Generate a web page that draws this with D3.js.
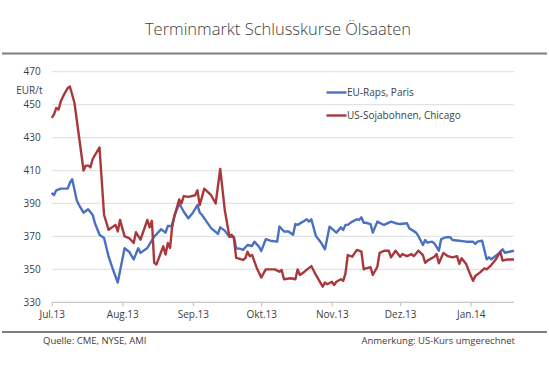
<!DOCTYPE html>
<html>
<head>
<meta charset="utf-8">
<script src="https://cdn.jsdelivr.net/npm/d3@7"></script>
<style>
  html, body { margin: 0; padding: 0; background: #fff; }
  svg { display: block; font-family: "Open Sans", sans-serif; }
</style>
</head>
<body>
<svg id="chart" width="549" height="375"></svg>
<script>
const title = "Terminmarkt Schlusskurse Ölsaaten";
const unitLabel = "EUR/t";
const sourceNote = "Quelle: CME, NYSE, AMI";
const remarkNote = "Anmerkung: US-Kurs umgerechnet";
const seriesNames = ["EU-Raps, Paris", "US-Sojabohnen, Chicago"];
const seriesColors = ["#4a70c2", "#a8383b"];
const yTicks = [330, 350, 370, 390, 410, 430, 450, 470];
const monthTicks = ["2013-07-01","2013-08-01","2013-09-01","2013-10-01","2013-11-01","2013-12-01","2014-01-01"];
const monthLabels = ["Jul.13","Aug.13","Sep.13","Okt.13","Nov.13","Dez.13","Jan.14"];
const xDomain = ["2013-07-01", "2014-01-20"];

const rapsDates = ["2013-07-01","2013-07-02","2013-07-03","2013-07-05","2013-07-08","2013-07-09","2013-07-10","2013-07-12","2013-07-13","2013-07-15","2013-07-17","2013-07-19","2013-07-20","2013-07-22","2013-07-24","2013-07-26","2013-07-28","2013-07-30","2013-08-02","2013-08-04","2013-08-06","2013-08-08","2013-08-09","2013-08-12","2013-08-15","2013-08-18","2013-08-20","2013-08-21","2013-08-23","2013-08-24","2013-08-26","2013-08-28","2013-08-30","2013-09-01","2013-09-03","2013-09-04","2013-09-05","2013-09-07","2013-09-09","2013-09-12","2013-09-13","2013-09-15","2013-09-17","2013-09-19","2013-09-20","2013-09-22","2013-09-23","2013-09-25","2013-09-27","2013-09-28","2013-09-30","2013-10-01","2013-10-03","2013-10-05","2013-10-08","2013-10-09","2013-10-11","2013-10-13","2013-10-15","2013-10-16","2013-10-17","2013-10-20","2013-10-21","2013-10-22","2013-10-23","2013-10-25","2013-10-27","2013-10-29","2013-10-31","2013-11-02","2013-11-03","2013-11-05","2013-11-06","2013-11-07","2013-11-08","2013-11-10","2013-11-12","2013-11-13","2013-11-14","2013-11-15","2013-11-16","2013-11-18","2013-11-19","2013-11-21","2013-11-23","2013-11-24","2013-11-27","2013-11-29","2013-12-01","2013-12-04","2013-12-05","2013-12-08","2013-12-09","2013-12-11","2013-12-12","2013-12-13","2013-12-15","2013-12-16","2013-12-18","2013-12-19","2013-12-21","2013-12-23","2013-12-24","2013-12-27","2013-12-30","2014-01-02","2014-01-03","2014-01-04","2014-01-06","2014-01-08","2014-01-09","2014-01-10","2014-01-13","2014-01-15","2014-01-16","2014-01-18","2014-01-20"];
const rapsValues = [396.5,395,398,399,399,402.6,404.7,392,389,384.4,386.5,383,378,371,369,357.7,349.6,342,362.8,360.7,356,362.8,360,363,369.8,374.3,372.3,376.3,376.3,383,390,385,381,384.4,389,384.4,383,379,375,371.5,375.5,373.5,369.8,369.8,362.8,362.4,361.8,364.8,364.2,366.8,363.8,361.1,368.3,367.4,366.8,376,373,373,371,377.5,377,379.5,380.4,379,380.4,370.3,366.8,362.2,375.9,373.5,372.3,375.5,373.9,377,377,379,380.4,380,381.6,378.3,378.3,377.5,372.3,379,377.5,377,379,378,377.5,378,375,372.3,370.3,364.8,367.8,366.2,366.8,365.8,361.3,368.3,369.5,369.5,367.8,367.4,366.8,366.8,365.4,366.8,367.4,356.1,357.3,356.1,359.3,362.2,360.1,360.7,361.3];

const sojaDates = ["2013-07-01","2013-07-02","2013-07-03","2013-07-04","2013-07-05","2013-07-06","2013-07-08","2013-07-09","2013-07-11","2013-07-15","2013-07-16","2013-07-17","2013-07-18","2013-07-19","2013-07-22","2013-07-24","2013-07-26","2013-07-29","2013-07-30","2013-07-31","2013-08-02","2013-08-04","2013-08-06","2013-08-07","2013-08-09","2013-08-12","2013-08-13","2013-08-14","2013-08-15","2013-08-16","2013-08-19","2013-08-20","2013-08-21","2013-08-22","2013-08-23","2013-08-26","2013-08-27","2013-08-28","2013-08-30","2013-09-02","2013-09-03","2013-09-04","2013-09-06","2013-09-09","2013-09-11","2013-09-13","2013-09-15","2013-09-17","2013-09-18","2013-09-19","2013-09-20","2013-09-23","2013-09-24","2013-09-25","2013-09-26","2013-09-27","2013-09-29","2013-10-01","2013-10-03","2013-10-05","2013-10-07","2013-10-09","2013-10-10","2013-10-11","2013-10-14","2013-10-16","2013-10-17","2013-10-18","2013-10-20","2013-10-23","2013-10-25","2013-10-28","2013-10-29","2013-10-30","2013-11-01","2013-11-02","2013-11-03","2013-11-05","2013-11-06","2013-11-07","2013-11-08","2013-11-10","2013-11-12","2013-11-14","2013-11-15","2013-11-16","2013-11-18","2013-11-19","2013-11-21","2013-11-22","2013-11-24","2013-11-26","2013-11-27","2013-11-29","2013-12-01","2013-12-02","2013-12-04","2013-12-06","2013-12-07","2013-12-09","2013-12-11","2013-12-12","2013-12-13","2013-12-16","2013-12-17","2013-12-18","2013-12-20","2013-12-22","2013-12-24","2013-12-26","2013-12-27","2013-12-28","2013-12-30","2013-12-31","2014-01-02","2014-01-03","2014-01-05","2014-01-07","2014-01-08","2014-01-10","2014-01-12","2014-01-14","2014-01-15","2014-01-17","2014-01-20"];
const sojaValues = [442,444,448,447,452,455,460,461,451,410,413,413,412,417,424,383,374,377,373,380,370,369,366,372.5,368,380,375.5,379.5,354,353,364,359,366,363,378,392.5,390,394.5,394,395,398,389,399,395,390,411,386,370,371,369,357,355.7,356.7,360.7,358,358.7,351,345,350,350,350,348.6,349.6,344,344.6,344,350,346.6,348.6,352,346.6,339.5,342,341,342.5,340.5,342.5,344,343,347.6,358.7,357.7,361.8,360.7,350,350.6,351.3,346.6,351.6,360,361.3,361.3,357.3,361.3,357.7,359.3,358,359.3,358,361.3,358.7,354,355.3,357.7,359.3,353.7,360,358,357.3,358,353.3,356.7,353.3,349.6,343,346,348,350.6,350,352.6,356,360.7,355.3,356,356];

const parse = d3.timeParse("%Y-%m-%d");
const series = [
  { name: seriesNames[0], color: seriesColors[0], points: rapsDates.map((d, i) => ({ date: parse(d), value: rapsValues[i] })) },
  { name: seriesNames[1], color: seriesColors[1], points: sojaDates.map((d, i) => ({ date: parse(d), value: sojaValues[i] })) }
];

const svg = d3.select("#chart");
const W = 549;
const plot = { left: 51.7, right: 514, top: 71.7, bottom: 302.3 };

const x = d3.scaleTime().domain(xDomain.map(parse)).range([plot.left, plot.right]);
const y = d3.scaleLinear().domain([330, 470]).range([plot.bottom, plot.top]);

const textColor = "#404040";

// Title
svg.append("text")
  .attr("x", 278).attr("y", 35)
  .attr("text-anchor", "middle")
  .attr("font-size", 16.5)
  .attr("font-weight", 300)
  .attr("fill", textColor)
  .text(title);

// Title rule & footer rule
svg.append("line").attr("x1", 2).attr("x2", 547).attr("y1", 53.5).attr("y2", 53.5)
  .attr("stroke", "#7f7f7f").attr("stroke-width", 2);
svg.append("line").attr("x1", 2).attr("x2", 547).attr("y1", 332).attr("y2", 332)
  .attr("stroke", "#7f7f7f").attr("stroke-width", 2);

// Gridlines
svg.append("g").selectAll("line")
  .data(yTicks.filter(t => t !== 330))
  .join("line")
  .attr("x1", plot.left).attr("x2", plot.right)
  .attr("y1", d => y(d)).attr("y2", d => y(d))
  .attr("stroke", "#e3e3e3").attr("stroke-width", 1.3);

// Y axis labels (no line)
const yAxis = d3.axisLeft(y).tickValues(yTicks).tickSize(0).tickPadding(0).tickFormat(d3.format("d"));
const yg = svg.append("g").attr("transform", `translate(${plot.left - 11},0)`).call(yAxis);
yg.select(".domain").remove();
yg.selectAll("text").attr("font-size", 10).attr("fill", textColor).attr("font-family", "Open Sans");

// Unit label
svg.append("text").attr("x", 42.5).attr("y", 93.5).attr("text-anchor", "end")
  .attr("font-size", 10).attr("fill", textColor).text(unitLabel);

// X axis
const xAxis = d3.axisBottom(x)
  .tickValues(monthTicks.map(parse))
  .tickSize(4).tickPadding(5)
  .tickFormat((d, i) => monthLabels[i]);
const xg = svg.append("g").attr("transform", `translate(0,${plot.bottom})`).call(xAxis);
xg.select(".domain").attr("stroke", "#c6c6c6").attr("stroke-width", 1.3)
  .attr("d", `M${plot.left},0H${plot.right}`);
xg.selectAll(".tick line").attr("stroke", "#c6c6c6").attr("stroke-width", 1.2);
xg.selectAll("text").attr("font-size", 10).attr("fill", textColor).attr("font-family", "Open Sans");

// Lines
const line = d3.line().x(d => x(d.date)).y(d => y(d.value));
svg.append("g").selectAll("path")
  .data(series)
  .join("path")
  .attr("d", d => line(d.points))
  .attr("fill", "none")
  .attr("stroke", d => d.color)
  .attr("stroke-width", 2.4)
  .attr("stroke-linejoin", "round");

// Legend
const legend = svg.append("g").selectAll("g").data(series).join("g")
  .attr("transform", (d, i) => `translate(326.5,${92.5 + i * 23})`);
legend.append("line").attr("x1", 0).attr("x2", 20).attr("y1", 0).attr("y2", 0)
  .attr("stroke", d => d.color).attr("stroke-width", 2.4);
legend.append("text").attr("x", 20.5).attr("y", 3.5)
  .attr("font-size", 10).attr("fill", textColor).text(d => d.name);

// Footer notes
svg.append("text").attr("x", 43).attr("y", 343.5).attr("font-size", 9.5).attr("fill", textColor).text(sourceNote);
svg.append("text").attr("x", 515).attr("y", 343.5).attr("text-anchor", "end").attr("font-size", 9.5).attr("fill", textColor).text(remarkNote);
</script>
</body>
</html>
